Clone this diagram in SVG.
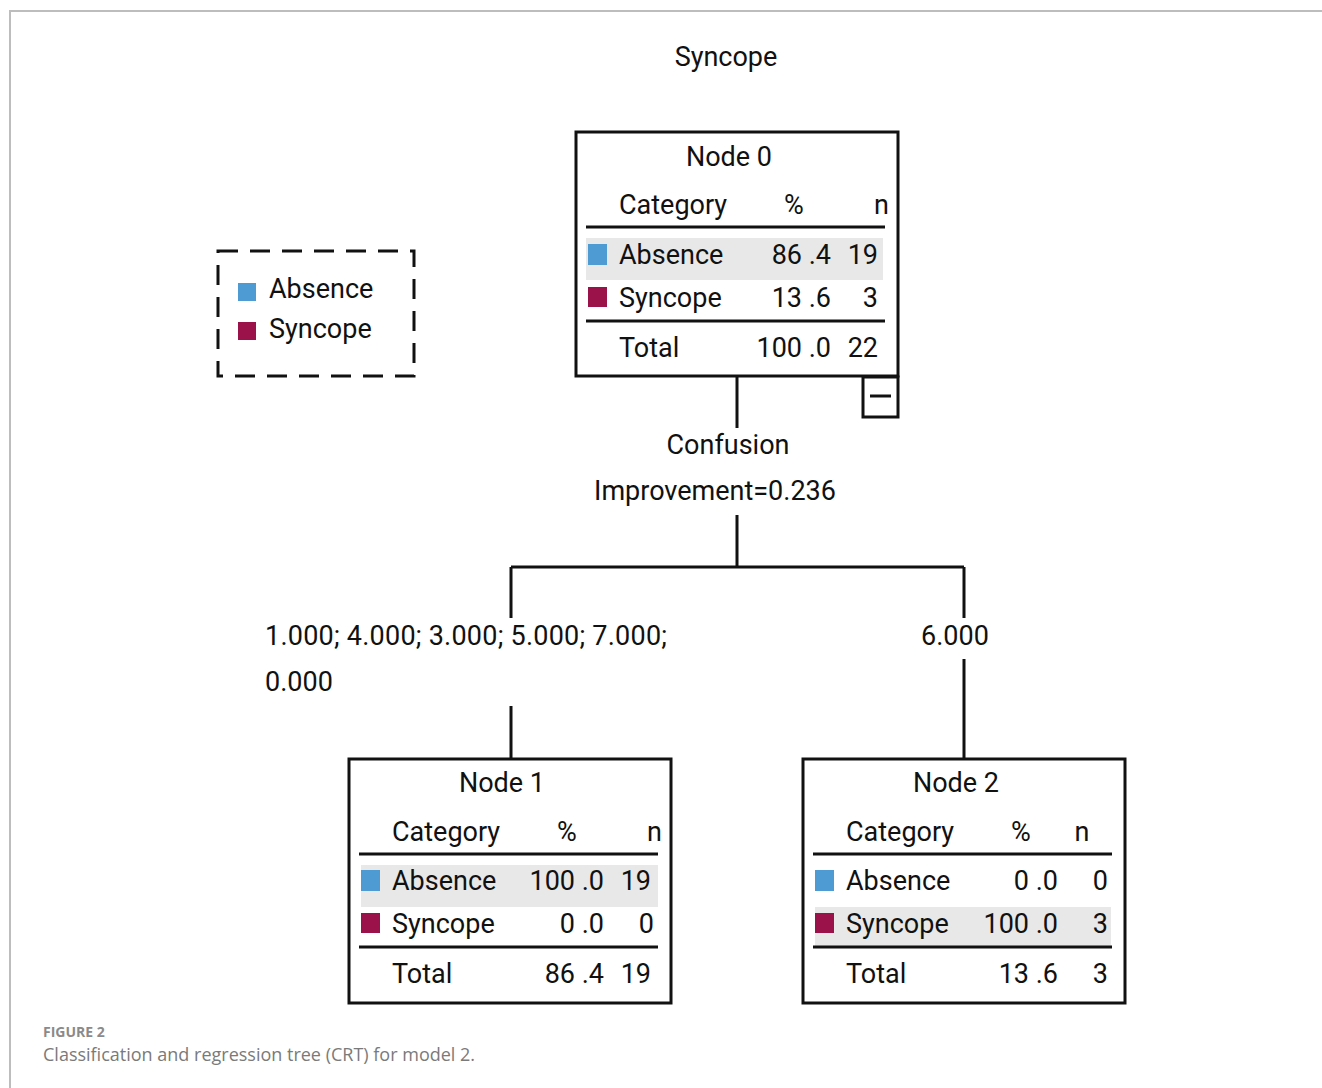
<svg xmlns="http://www.w3.org/2000/svg" width="1322" height="1088" viewBox="0 0 1322 1088">
<style>
.t{font-family:Roboto,"Liberation Sans",Arial,sans-serif;font-size:27px;fill:#111}
.m{text-anchor:middle}
.e{text-anchor:end}
.box{fill:#fff;stroke:#111;stroke-width:3}
.rule{stroke:#111;stroke-width:3}
.hl{fill:#e8e8e8}
.abs{fill:#4e9bd3}
.syn{fill:#9b124b}
.c{stroke:#111;stroke-width:3;fill:none}
</style>
<rect width="1322" height="1088" fill="#fff"/>
<path d="M10 1088V11H1322" fill="none" stroke="#bdbdbd" stroke-width="2"/>
<text class="t m" x="726" y="66">Syncope</text>

<g id="legend">
<rect x="218" y="251" width="196" height="125" fill="none" stroke="#111" stroke-width="3" stroke-dasharray="20 12"/>
<rect class="abs" x="238" y="283" width="18" height="18"/>
<text class="t" x="269" y="298">Absence</text>
<rect class="syn" x="238" y="322" width="18" height="18"/>
<text class="t" x="269" y="338">Syncope</text>
</g>

<g id="connectors">
<path class="c" d="M737 377V428"/>
<path class="c" d="M737 515V567M511 567H964M511 567V618M964 567V618M511 706V758M964 659V758"/>
<text class="t m" x="728" y="454">Confusion</text>
<text class="t m" x="715" y="500">Improvement=0.236</text>
<text class="t" x="265" y="645" textLength="402">1.000; 4.000; 3.000; 5.000; 7.000;</text>
<text class="t" x="265" y="691">0.000</text>
<text class="t m" x="955" y="645">6.000</text>
</g>

<g id="node0">
<rect class="box" x="576" y="132" width="322" height="244"/>
<text class="t m" x="729" y="166">Node 0</text>
<text class="t" x="619" y="214">Category</text>
<text class="t m" x="794" y="214">%</text>
<text class="t e" x="889" y="214">n</text>
<line class="rule" x1="586" y1="227" x2="885" y2="227"/>
<rect class="hl" x="586" y="238" width="297" height="42"/>
<rect class="abs" x="588" y="244" width="19" height="21"/>
<text class="t" x="619" y="264">Absence</text>
<text class="t e" x="831" y="264">86 .4</text>
<text class="t e" x="878" y="264">19</text>
<rect class="syn" x="588" y="287" width="19" height="20"/>
<text class="t" x="619" y="307">Syncope</text>
<text class="t e" x="831" y="307">13 .6</text>
<text class="t e" x="878" y="307">3</text>
<line class="rule" x1="586" y1="321" x2="885" y2="321"/>
<text class="t" x="619" y="357">Total</text>
<text class="t e" x="831" y="357">100 .0</text>
<text class="t e" x="878" y="357">22</text>
<rect class="box" x="863" y="377" width="35" height="40"/>
<line class="rule" x1="870" y1="396" x2="891" y2="396"/>
</g>

<g id="node1">
<rect class="box" x="349" y="759" width="322" height="244"/>
<text class="t m" x="502" y="792">Node 1</text>
<text class="t" x="392" y="841">Category</text>
<text class="t m" x="567" y="841">%</text>
<text class="t e" x="662" y="841">n</text>
<line class="rule" x1="359" y1="854" x2="658" y2="854"/>
<rect class="hl" x="361" y="865" width="297" height="42"/>
<rect class="abs" x="361" y="870" width="19" height="21"/>
<text class="t" x="392" y="890">Absence</text>
<text class="t e" x="604" y="890">100 .0</text>
<text class="t e" x="651" y="890">19</text>
<rect class="syn" x="361" y="913" width="19" height="20"/>
<text class="t" x="392" y="933">Syncope</text>
<text class="t e" x="604" y="933">0 .0</text>
<text class="t e" x="654" y="933">0</text>
<line class="rule" x1="359" y1="947" x2="658" y2="947"/>
<text class="t" x="392" y="983">Total</text>
<text class="t e" x="604" y="983">86 .4</text>
<text class="t e" x="651" y="983">19</text>
</g>

<g id="node2">
<rect class="box" x="803" y="759" width="322" height="244"/>
<text class="t m" x="956" y="792">Node 2</text>
<text class="t" x="846" y="841">Category</text>
<text class="t m" x="1021" y="841">%</text>
<text class="t m" x="1082" y="841">n</text>
<line class="rule" x1="813" y1="854" x2="1112" y2="854"/>
<rect class="abs" x="815" y="870" width="19" height="21"/>
<text class="t" x="846" y="890">Absence</text>
<text class="t e" x="1058" y="890">0 .0</text>
<text class="t e" x="1108" y="890">0</text>
<rect class="hl" x="815" y="907" width="296" height="39"/>
<rect class="syn" x="815" y="913" width="19" height="20"/>
<text class="t" x="846" y="933">Syncope</text>
<text class="t e" x="1058" y="933">100 .0</text>
<text class="t e" x="1108" y="933">3</text>
<line class="rule" x1="813" y1="947" x2="1112" y2="947"/>
<text class="t" x="846" y="983">Total</text>
<text class="t e" x="1058" y="983">13 .6</text>
<text class="t e" x="1108" y="983">3</text>
</g>

<g id="caption" font-family="'Open Sans','Liberation Sans',sans-serif">
<text x="43" y="1037" font-size="14" font-weight="bold" fill="#8a8a8a">FIGURE 2</text>
<text x="43" y="1061" font-size="18" fill="#7a7a7a">Classification and regression tree (CRT) for model 2.</text>
</g>
</svg>
